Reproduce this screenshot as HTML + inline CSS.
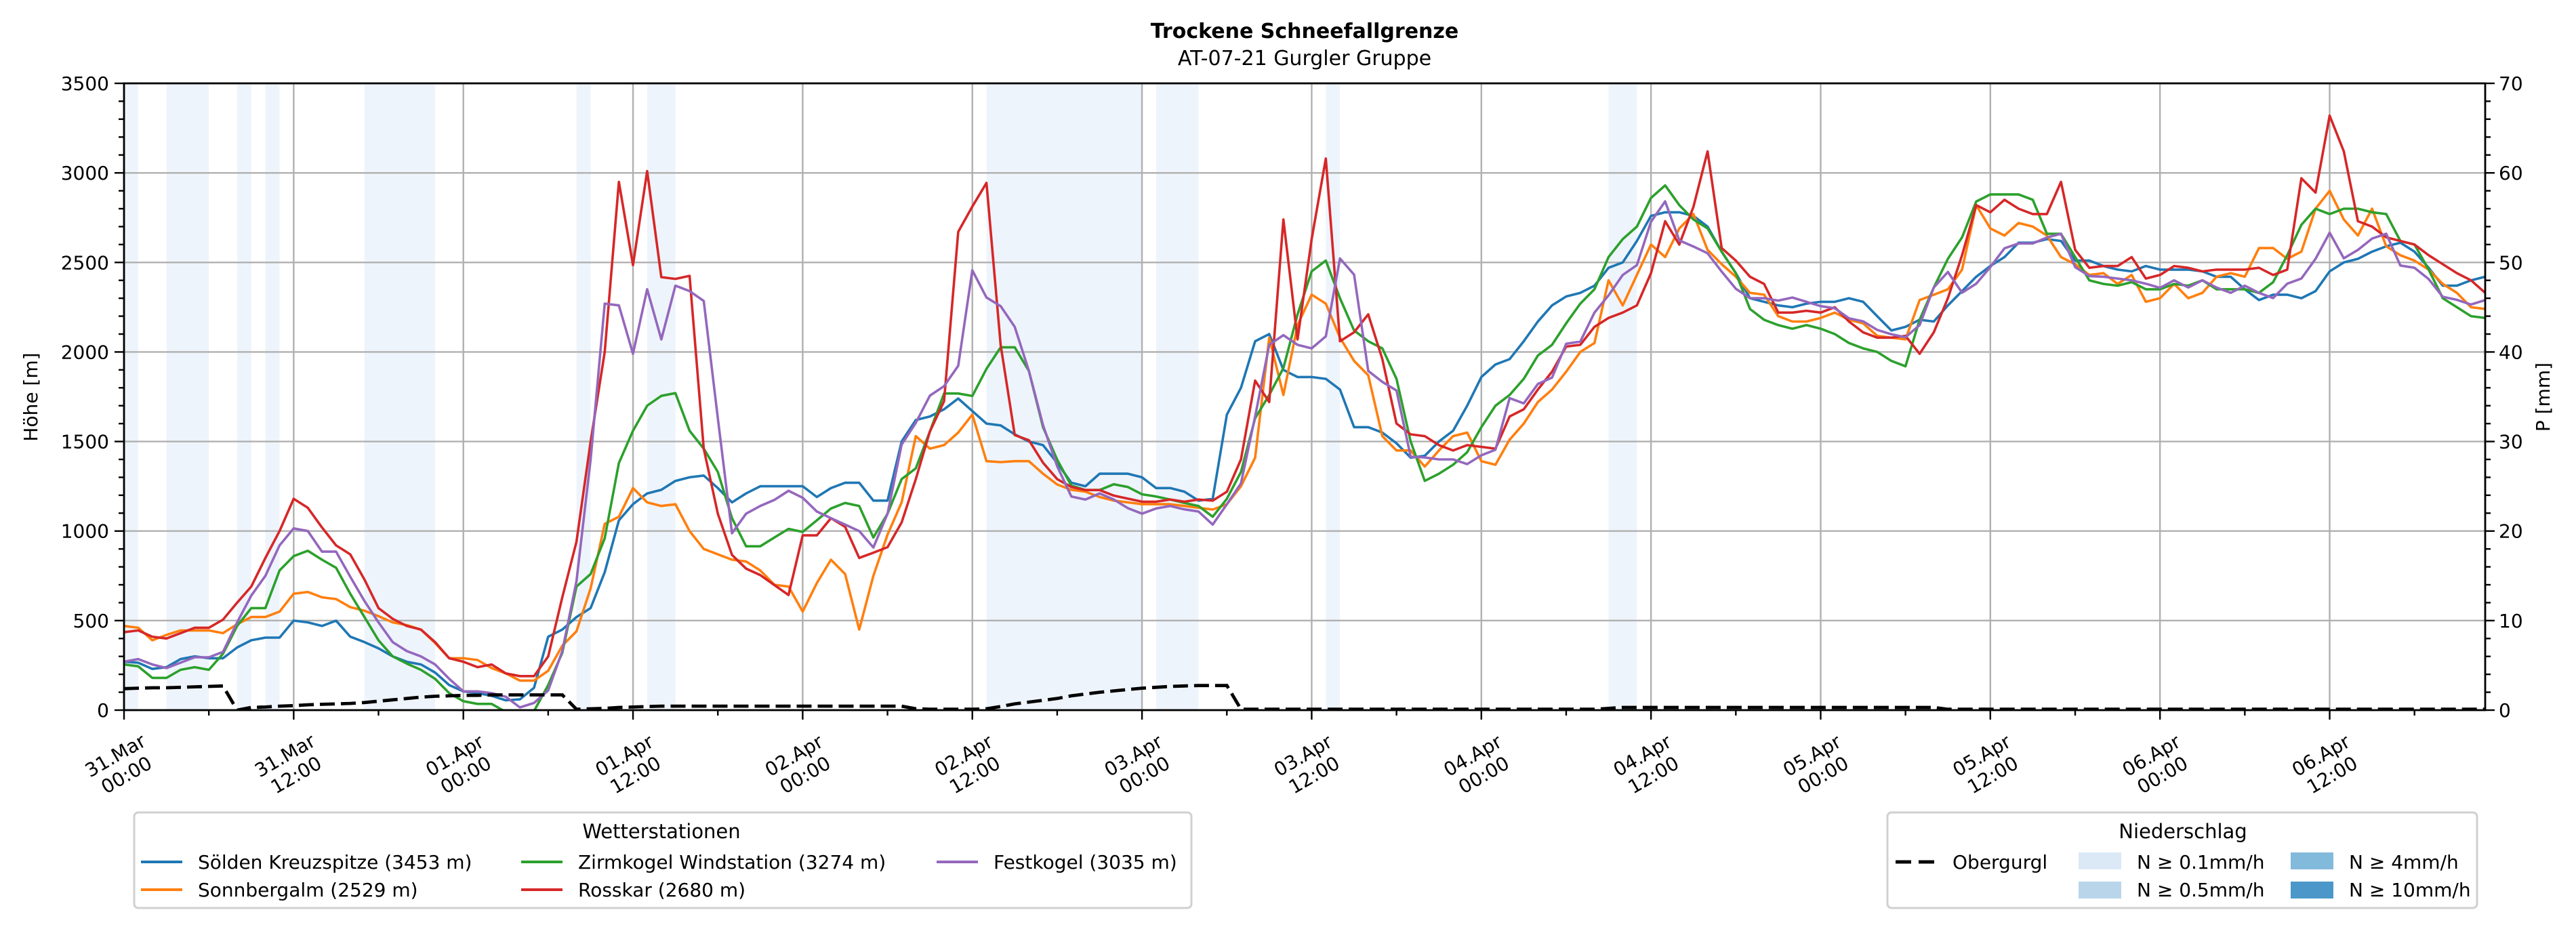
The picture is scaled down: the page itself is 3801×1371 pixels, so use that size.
<!DOCTYPE html>
<html><head><meta charset="utf-8">
<style>
html,body{margin:0;padding:0;background:#fff;}
svg{display:block;font-family:"DejaVu Sans","Liberation Sans",sans-serif;}
</style></head>
<body>
<svg id="chart" xmlns="http://www.w3.org/2000/svg" width="3801" height="1371" viewBox="0 0 3801 1371">
<rect x="0" y="0" width="3801" height="1371" fill="#fff"/>
<text x="1925" y="56" text-anchor="middle" font-size="30" font-weight="bold">Trockene Schneefallgrenze</text>
<text x="1925" y="96" text-anchor="middle" font-size="30">AT-07-21 Gurgler Gruppe</text>
<defs><clipPath id="plotclip"><rect x="183" y="123" width="3484" height="925"/></clipPath></defs>
<g id="bg" clip-path="url(#plotclip)"></g>
<g id="grid"></g>
<g id="series" clip-path="url(#plotclip)"></g>
<g id="axes"></g>
<text transform="translate(55,586) rotate(-90)" text-anchor="middle" font-size="28">Höhe [m]</text>
<text transform="translate(3762,586) rotate(-90)" text-anchor="middle" font-size="28">P [mm]</text>

<g>
<rect x="198" y="1199" width="1560" height="141" rx="6" fill="#fff" stroke="#d0d0d0" stroke-width="3"/>
<text x="976" y="1237" text-anchor="middle" font-size="29">Wetterstationen</text>
<g><line x1="208" y1="1272" x2="269" y2="1272" stroke="#1f77b4" stroke-width="4"/><text x="292" y="1282" font-size="28">Sölden Kreuzspitze (3453 m)</text></g>
<g><line x1="208" y1="1313" x2="269" y2="1313" stroke="#ff7f0e" stroke-width="4"/><text x="292" y="1323" font-size="28">Sonnbergalm (2529 m)</text></g>
<g><line x1="769" y1="1272" x2="830" y2="1272" stroke="#2ca02c" stroke-width="4"/><text x="853" y="1282" font-size="28">Zirmkogel Windstation (3274 m)</text></g>
<g><line x1="769" y1="1313" x2="830" y2="1313" stroke="#d62728" stroke-width="4"/><text x="853" y="1323" font-size="28">Rosskar (2680 m)</text></g>
<g><line x1="1382" y1="1272" x2="1443" y2="1272" stroke="#9467bd" stroke-width="4"/><text x="1466" y="1282" font-size="28">Festkogel (3035 m)</text></g>
</g>

<g>
<rect x="2785" y="1199" width="870" height="141" rx="6" fill="#fff" stroke="#d0d0d0" stroke-width="3"/>
<text x="3221" y="1237" text-anchor="middle" font-size="29">Niederschlag</text>
<g><line x1="2797" y1="1272" x2="2854" y2="1272" stroke="#000" stroke-width="5" stroke-dasharray="23,11"/><text x="2881" y="1282" font-size="28">Obergurgl</text></g>
<g><rect x="3067" y="1258" width="63" height="25" fill="#dbe9f6"/><text x="3153" y="1282" font-size="28">N ≥ 0.1mm/h</text></g>
<g><rect x="3067" y="1301" width="63" height="25" fill="#b9d5ea"/><text x="3153" y="1323" font-size="28">N ≥ 0.5mm/h</text></g>
<g><rect x="3380" y="1258" width="63" height="25" fill="#82badb"/><text x="3466" y="1282" font-size="28">N ≥ 4mm/h</text></g>
<g><rect x="3380" y="1301" width="63" height="25" fill="#4b97c9"/><text x="3466" y="1323" font-size="28">N ≥ 10mm/h</text></g>
</g>
</svg>
<script>
// ---- data (hourly from 31.Mar 00:00) ----
const soelden = [270,265,230,240,285,300,290,290,350,390,405,405,500,490,470,500,410,380,345,300,270,255,210,140,105,95,80,55,60,125,410,450,520,570,770,1060,1150,1210,1230,1280,
1300,1310,1240,1160,1210,1250,1250,1250,1250,1190,1240,1270,1270,1170,1170,1500,1620,1640,1680,1740,1670,1600,1590,1540,1500,1480,1380,1270,1250,1320,1320,1320,1300,1240,1240,1220,1170,1180,
1650,1800,2060,2100,1900,1860,1860,1850,1790,1580,1580,1550,1490,1410,1420,1500,1560,1700,1860,1930,1960,2060,2170,2260,2310,2330,2370,2470,2500,2620,2760,2780,2780,2760,2700,2560,2440,2300,2280,2260,2250,2270,2280,2280,2300,2280,2200,2120,
2140,2180,2170,2260,2340,2420,2480,2530,2610,2610,2630,2620,2510,2510,2480,2460,2450,2480,2460,2460,2460,2450,2420,2420,2350,2290,2320,2320,2300,2340,2450,2500,2520,2560,2590,2610,2560,2470,2370,2370,2400,2420];
const sonnbergalm = [470,460,390,420,445,445,445,430,480,520,520,550,650,660,630,620,575,555,525,490,475,450,375,290,290,280,235,205,165,165,220,360,440,680,1040,1080,
1240,1160,1140,1150,1000,900,870,840,830,780,700,690,550,710,840,760,450,750,980,1160,1530,1460,1480,1550,1650,1390,1385,1390,1390,1320,1260,1230,1220,1190,1170,1160,1150,1150,1150,1140,1130,1120,
1150,1250,1410,2080,1760,2150,2320,2270,2080,1950,1870,1530,1450,1450,1360,1450,1530,1550,1390,1370,1510,1600,1720,1790,1890,2000,2050,2400,2260,2430,2600,2530,2690,2770,2570,2490,2420,2330,2320,2200,2170,2170,2190,2220,2180,2160,2090,2080,
2070,2290,2320,2350,2460,2820,2690,2650,2720,2700,2650,2530,2490,2430,2440,2380,2430,2280,2300,2380,2300,2330,2420,2440,2420,2580,2580,2520,2560,2800,2900,2740,2650,2800,2590,2540,2510,2460,2380,2330,2250,2240];
const zirmkogel = [255,245,180,180,225,240,225,315,470,570,570,780,860,890,840,795,650,520,390,300,260,225,175,95,50,35,35,-10,-20,-5,140,320,690,760,960,1380,1560,
1700,1755,1770,1560,1460,1330,1072,915,915,964,1012,995,1060,1126,1157,1140,964,1097,1290,1350,1556,1768,1768,1754,1906,2026,2026,1894,1580,1399,1254,1229,1229,1261,1246,1205,1193,1176,1157,1140,1080,
1180,1330,1630,1760,1910,2210,2450,2510,2300,2120,2060,2020,1850,1500,1280,1320,1370,1440,1580,1700,1760,1850,1980,2040,2160,2270,2350,2530,2630,2700,2860,2930,2820,2740,2690,2560,2440,2240,2180,2150,2130,2150,2130,2100,2050,2020,2000,1950,
1920,2180,2360,2520,2640,2840,2880,2880,2880,2850,2660,2660,2530,2400,2380,2370,2390,2350,2350,2380,2370,2400,2350,2350,2350,2330,2390,2540,2710,2800,2770,2800,2800,2780,2770,2620,2600,2460,2300,2250,2200,2190];
const rosskar = [435,445,410,400,430,460,460,505,600,690,850,1000,1180,1130,1020,920,870,730,570,510,470,450,380,290,270,240,255,205,190,190,300,630,940,1500,2000,2950,
2485,3010,2418,2408,2425,1460,1097,867,790,754,698,643,976,976,1072,1024,850,879,910,1048,1290,1556,1725,2671,2812,2944,2039,1536,1507,1382,1290,1246,1229,1229,1198,1181,1164,1164,1176,1164,1176,1170,
1220,1400,1840,1720,2740,2070,2630,3080,2060,2110,2210,1960,1600,1540,1530,1480,1450,1480,1470,1460,1640,1680,1790,1890,2030,2040,2140,2190,2220,2260,2440,2730,2600,2810,3120,2580,2510,2420,2380,2220,2220,2230,2220,2250,2170,2110,2080,2080,
2090,1990,2110,2300,2540,2820,2780,2850,2800,2770,2770,2950,2570,2470,2480,2480,2530,2410,2430,2480,2470,2450,2460,2460,2460,2470,2430,2460,2970,2890,3320,3120,2730,2700,2640,2620,2600,2540,2490,2440,2400,2330];
const festkogel = [270,285,255,235,265,295,295,325,490,640,750,920,1015,1000,885,885,745,610,490,380,330,300,255,175,105,105,95,75,15,40,110,330,720,1400,2270,2260,
1990,2350,2070,2370,2340,2285,1630,988,1097,1140,1174,1225,1186,1109,1072,1036,1000,908,1097,1483,1604,1756,1809,1923,2456,2304,2256,2140,1894,1592,1362,1193,1176,1210,1176,1128,1097,1126,1140,1121,1109,1036,
1150,1266,1640,2040,2094,2040,2020,2087,2522,2432,1894,1833,1785,1415,1411,1400,1400,1374,1423,1454,1742,1713,1821,1857,2046,2058,2220,2316,2430,2485,2727,2841,2623,2589,2551,2449,2353,2300,2300,2287,2304,2280,2256,2244,2188,2171,2123,2099,
2082,2150,2360,2447,2331,2381,2474,2579,2606,2606,2639,2660,2474,2424,2420,2410,2400,2381,2358,2400,2360,2400,2360,2330,2370,2330,2301,2381,2410,2520,2666,2523,2570,2633,2660,2483,2470,2407,2308,2291,2265,2290];
const obergurglPrecip = [2.4,2.45,2.5,2.5,2.55,2.6,2.65,2.7,
0.0,
0.3,0.35,0.45,0.5,0.6,0.65,0.7,0.75,0.85,1.0,1.15,1.3,1.45,1.55,1.6,1.65,
1.65,1.7,1.7,1.7,1.7,1.7,1.7,
0.1,0.15,0.2,0.3,0.35,0.4,
0.45,0.45,0.45,0.45,0.45,0.45,0.45,0.45,0.45,0.45,0.45,0.45,0.45,0.45,0.45,0.45,0.45,0.45,
0.15,0.1,0.1,0.1,0.1,
0.15,0.4,0.7,0.9,1.1,1.3,1.6,1.8,2.0,2.15,2.3,2.45,2.55,2.65,2.7,2.75,2.75,2.75,
0.1,0.1,0.1,0.1,0.1,0.1,0.1,0.1,0.1,0.1,0.1,0.1,0.1,0.1,0.1,0.1,0.1,0.1,0.1,0.1,0.1,0.1,0.1,0.1,0.1,0.1,
0.2,0.3,0.3,
0.3,0.3,0.3,0.3,0.3,0.3,0.3,0.3,0.3,0.3,0.3,0.3,0.3,0.3,0.3,0.3,0.3,0.3,0.3,0.3,0.3,
0.1,0.1,0.1,0.1,0.1,0.1,0.1,0.1,0.1,0.1,0.1,0.1,0.1,0.1,0.1,0.1,0.1,0.1,0.1,0.1,0.1,0.1,0.1,0.1,0.1,0.1,0.1,0.1,0.1,0.1,0.1,0.1,0.1,0.1,0.1,0.1,0.1,0.1,0.1];
const rainSpanStart = [0,3,8,10,17,32,37,61,73,85,105];
const rainSpanEnd   = [1,6,9,11,22,33,39,72,76,86,107];
const xTickDays  = ["31.Mar","31.Mar","01.Apr","01.Apr","02.Apr","02.Apr","03.Apr","03.Apr","04.Apr","04.Apr","05.Apr","05.Apr","06.Apr","06.Apr"];
const xTickTimes = ["00:00","12:00","00:00","12:00","00:00","12:00","00:00","12:00","00:00","12:00","00:00","12:00","00:00","12:00"];
const yTicks  = [0,500,1000,1500,2000,2500,3000,3500];
const y2Ticks = [0,10,20,30,40,50,60,70];

// ---- scales ----
const PL=183, PR=3667, PT=123, PB=1048, HMAX=167, VMAX=3500, PMAX=70;
const xs = h => PL + h*(PR-PL)/HMAX;
const ys = v => PB - v*(PB-PT)/VMAX;
const y2s = p => PB - p*(PB-PT)/PMAX;
const NS="http://www.w3.org/2000/svg";
function mk(tag, attrs, parent){const e=document.createElementNS(NS,tag);for(const k in attrs)e.setAttribute(k,attrs[k]);parent.appendChild(e);return e;}

const bg=document.getElementById('bg');
rainSpanStart.forEach((s,i)=>{
  const r=mk('rect',{x:xs(s),y:PT,width:xs(rainSpanEnd[i])-xs(s),height:PB-PT,fill:'#eef4fb'},bg);
  
  
});

const grid=document.getElementById('grid');
xTickDays.forEach((d,i)=>{
  const x=xs(i*12);
  const l=mk('line',{x1:x,y1:PT,x2:x,y2:PB,stroke:'#b0b0b0','stroke-width':2.4},grid);
  
  
});
yTicks.forEach(v=>{
  const y=ys(v);
  const l=mk('line',{x1:PL,y1:y,x2:PR,y2:y,stroke:'#b0b0b0','stroke-width':2.4},grid);
  
  
});

const series=document.getElementById('series');
function path(arr, yfn){return arr.map((v,i)=>(i?'L':'M')+xs(i).toFixed(1)+','+yfn(v).toFixed(1)).join(' ');}
const defs=[[soelden,'#1f77b4','line-soelden'],[sonnbergalm,'#ff7f0e','line-sonnbergalm'],[zirmkogel,'#2ca02c','line-zirmkogel'],[rosskar,'#d62728','line-rosskar'],[festkogel,'#9467bd','line-festkogel']];
defs.forEach(([arr,col,name])=>{
  const p=mk('path',{d:path(arr,ys),fill:'none',stroke:col,'stroke-width':3.6,'stroke-linejoin':'round'},series);
  
  
});
const pp=mk('path',{d:path(obergurglPrecip,y2s),fill:'none',stroke:'#000','stroke-width':4.8,'stroke-dasharray':'22,9'},series);



const axes=document.getElementById('axes');
mk('rect',{x:PL,y:PT,width:PR-PL,height:PB-PT,fill:'none',stroke:'#000','stroke-width':2.8},axes);
for(let h=0;h<=HMAX;h+=6){
  const major=(h%12===0);
  mk('line',{x1:xs(h),y1:PB,x2:xs(h),y2:PB+(major?14:8),stroke:'#000','stroke-width':2.4},axes);
}
xTickDays.forEach((d,i)=>{
  const x=xs(i*12)-6, y=1127;
  const t=mk('text',{transform:`translate(${x},${y}) rotate(-30)`,'text-anchor':'middle','font-size':28},axes);
  
  
  mk('tspan',{x:0,y:-4},t).textContent=d;
  mk('tspan',{x:0,y:29},t).textContent=xTickTimes[i];
});
for(let v=0;v<=VMAX;v+=100){
  const major=(v%500===0);
  mk('line',{x1:PL,y1:ys(v),x2:PL-(major?14:8),y2:ys(v),stroke:'#000','stroke-width':2.4},axes);
}
yTicks.forEach(v=>{
  const t=mk('text',{x:PL-22,y:ys(v)+10,'text-anchor':'end','font-size':28},axes);
  
  
  t.textContent=v;
});
for(let p=0;p<=PMAX;p+=2){
  const major=(p%10===0);
  mk('line',{x1:PR,y1:y2s(p),x2:PR+(major?14:8),y2:y2s(p),stroke:'#000','stroke-width':2.4},axes);
}
y2Ticks.forEach(p=>{
  const t=mk('text',{x:PR+20,y:y2s(p)+10,'text-anchor':'start','font-size':28},axes);
  
  
  t.textContent=p;
});
</script>
</body></html>
